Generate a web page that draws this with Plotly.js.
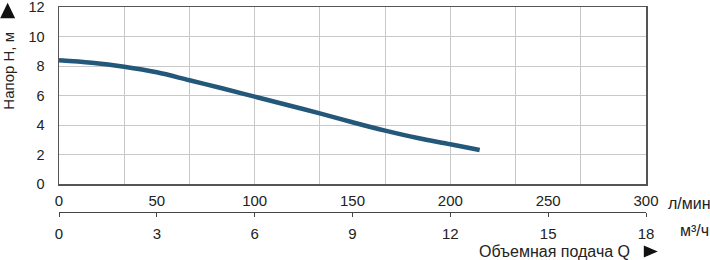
<!DOCTYPE html>
<html><head><meta charset="utf-8">
<script src="https://cdn.plot.ly/plotly-3.0.1.min.js"></script>
<style>html,body{margin:0;padding:0;background:#fff}#c{width:710px;height:260px}</style>
</head><body><div id="c"></div>
<script>
// Flow in l/min and head in m
const flowLmin = [0, 16.7, 33.3, 50, 66.7, 83.3, 100, 116.7, 133.3, 150, 166.7, 183.3, 200, 215];
const headM    = [8.40, 8.23, 7.96, 7.58, 7.04, 6.50, 5.93, 5.37, 4.80, 4.20, 3.63, 3.13, 2.71, 2.32];
const lminTicks = [0, 50, 100, 150, 200, 250, 300];
const m3hTicks  = [0, 3, 6, 9, 12, 15, 18];
const headTicks = [0, 2, 4, 6, 8, 10, 12];
const yTitle = 'Напор Н, м';
const xTitle = 'Объемная подача Q';
const unit1 = 'л/мин';
const unit2 = 'м³/ч';

const W = 710, H = 260;
const L = 59.3, R = 64.3, T = 7, B = 48;
const pw = W - L - R, ph = H - T - B;
const plotBottom = 184.3;
const px = x => (x - L) / pw;
const py = y => (H - B - y) / ph;
const pathPx = pts => 'M ' + pts.map(p => px(p[0]) + ',' + py(p[1])).join(' L ') + ' Z';

const FONT = 'Liberation Sans, Arial, sans-serif';
const txt = '#222';

const trace = {
  x: flowLmin, y: headM, type: 'scatter', mode: 'lines',
  line: {color: '#23587a', width: 4.5, shape: 'spline', smoothing: 1},
  xaxis: 'x', yaxis: 'y', hoverinfo: 'skip'
};
const dummy2 = {x: [], y: [], xaxis: 'x2', yaxis: 'y', type: 'scatter', hoverinfo: 'skip', showlegend: false};
const dummy3 = {x: [], y: [], xaxis: 'x3', yaxis: 'y', type: 'scatter', hoverinfo: 'skip', showlegend: false};

const layout = {
  width: W, height: H,
  margin: {l: L, r: R, t: T, b: B, pad: 0},
  paper_bgcolor: '#fff', plot_bgcolor: '#fff',
  showlegend: false,
  font: {family: FONT, size: 14, color: txt},
  xaxis: {
    range: [0, 300], tickmode: 'linear', tick0: 0, dtick: 100/3,
    showticklabels: false, ticks: '', showgrid: true, gridcolor: '#c8c8c8', gridwidth: 1,
    showline: true, mirror: true, linecolor: '#555', linewidth: 1.5, zeroline: false,
    anchor: 'y', fixedrange: true
  },
  xaxis2: {
    overlaying: 'x', anchor: 'y', side: 'bottom', range: [0, 300],
    tickmode: 'array', tickvals: lminTicks, ticktext: lminTicks.map(String),
    showgrid: false, showline: false, zeroline: false, ticks: '',
    ticklabelstandoff: 6, ticklabeloverflow: 'allow',
    tickfont: {family: FONT, size: 15, color: txt}, fixedrange: true
  },
  xaxis3: {
    overlaying: 'x', anchor: 'free', position: 0, side: 'bottom', range: [0, 18],
    tickmode: 'array', tickvals: m3hTicks, ticktext: m3hTicks.map(String),
    showgrid: false, showline: true, linecolor: '#444', linewidth: 1.2, zeroline: false,
    ticks: 'outside', ticklen: 4, tickwidth: 1, tickcolor: '#444',
    ticklabelstandoff: 4, ticklabeloverflow: 'allow',
    tickfont: {family: FONT, size: 15, color: txt}, fixedrange: true
  },
  yaxis: {
    domain: [(H - B - plotBottom) / ph, 1], range: [0, 12],
    tickmode: 'array', tickvals: headTicks, ticktext: headTicks.map(String),
    showgrid: true, gridcolor: '#c8c8c8', gridwidth: 1,
    showline: true, mirror: true, linecolor: '#555', linewidth: 1.5, zeroline: false,
    ticks: '', ticklabelstandoff: 10, ticklabeloverflow: 'allow',
    tickfont: {family: FONT, size: 14.5, color: txt}, fixedrange: true
  },
  shapes: [
    {type: 'path', xref: 'paper', yref: 'paper', path: pathPx([[0.5, 18.3], [15.5, 18.3], [8, 2.7]]), fillcolor: '#111', line: {width: 0}},
    {type: 'path', xref: 'paper', yref: 'paper', path: pathPx([[643.5, 245.5], [643.5, 257.5], [657.5, 251.5]]), fillcolor: '#111', line: {width: 0}}
  ],
  annotations: [
    {text: unit1, xref: 'paper', yref: 'paper', x: px(666), y: py(203), xanchor: 'left', yanchor: 'middle', showarrow: false, font: {family: FONT, size: 16, color: txt}},
    {text: unit2, xref: 'paper', yref: 'paper', x: px(678), y: py(230), xanchor: 'left', yanchor: 'middle', showarrow: false, font: {family: FONT, size: 16, color: txt}},
    {text: xTitle, xref: 'paper', yref: 'paper', x: px(632), y: py(251.5), xanchor: 'right', yanchor: 'middle', showarrow: false, font: {family: FONT, size: 16, color: txt}},
    {text: yTitle, xref: 'paper', yref: 'paper', x: px(8), y: py(71), xanchor: 'center', yanchor: 'middle', textangle: -90, showarrow: false, font: {family: FONT, size: 15, color: txt}}
  ]
};

Plotly.newPlot('c', [trace, dummy2, dummy3], layout, {staticPlot: true, displayModeBar: false});
</script></body></html>
